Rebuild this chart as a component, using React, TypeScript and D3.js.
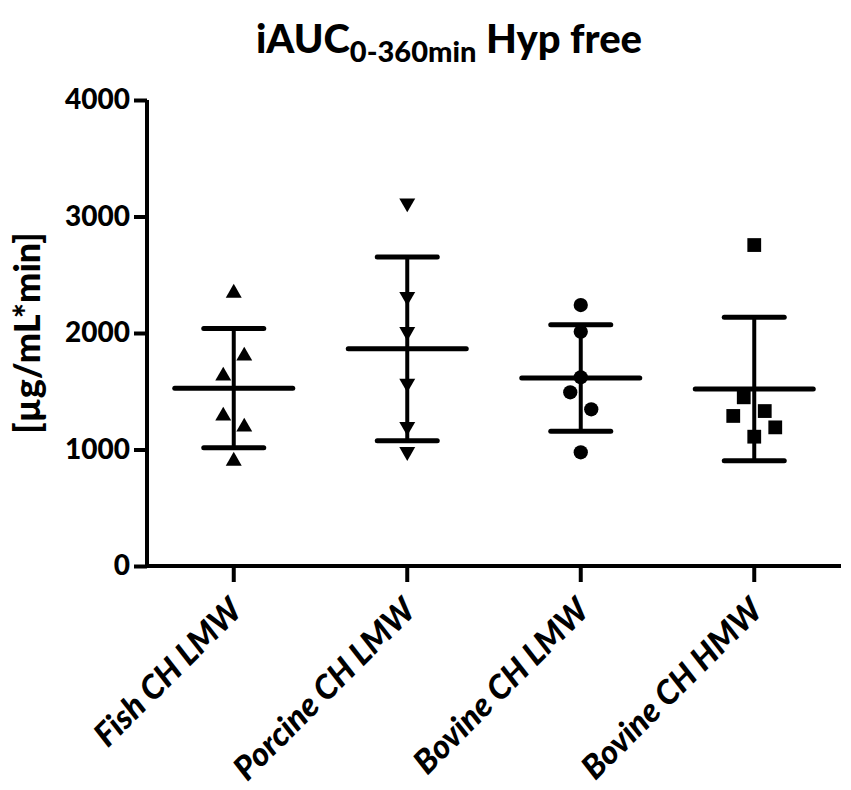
import React, { useEffect, useRef } from "react";
import * as d3 from "d3";

// Groups shown on the x axis
const groups = ["Fish CH LMW", "Porcine CH LMW", "Bovine CH LMW", "Bovine CH HMW"];

// Individual iAUC values per group [µg/mL*min]
const fishValues = [2343, 1803, 1631, 1288, 1193, 901];
const porcineValues = [3116, 2312, 2011, 1568, 1196, 981];
const bovineLmwValues = [2240, 2011, 1620, 1491, 1345, 976];
const bovineHmwValues = [2755, 1448, 1288, 1330, 1190, 1110];

// Scatter column of each point (dot-plot jitter, in columns)
const fishColumns = [0, 1, -1, -1, 1, 0];
const porcineColumns = [0, 0, 0, 0, 0, 0];
const bovineLmwColumns = [0, 0, 0, -1, 1, 0];
const bovineHmwColumns = [0, -1, -2, 1, 2, 0];

const yTicks = [0, 1000, 2000, 3000, 4000];

const FONT = "Lato, 'Open Sans', sans-serif";

const App: React.FC = () => {
  const svgRef = useRef<SVGSVGElement | null>(null);
  const width = 851;
  const height = 790;

  useEffect(() => {
    document.body.style.margin = "0";
    const svg = d3.select(svgRef.current);
    svg.selectAll("*").remove();

    const valuesList = [fishValues, porcineValues, bovineLmwValues, bovineHmwValues];
    const columnsList = [fishColumns, porcineColumns, bovineLmwColumns, bovineHmwColumns];
    const symbols = [
      d3.symbolTriangle,
      d3.symbolTriangle,
      d3.symbolCircle,
      d3.symbolSquare,
    ];

    const x = d3.scaleBand<string>().domain(groups).range([147, 841]);
    const y = d3.scaleLinear().domain([0, 4000]).range([566, 100]);
    const jitter = d3.scaleLinear().domain([-1, 1]).range([-10.5, 10.5]);

    // Title
    const title = svg
      .append("text")
      .attr("x", 449)
      .attr("y", 53)
      .attr("text-anchor", "middle")
      .style("font-family", FONT)
      .style("font-weight", 900)
      .style("font-size", "40px");
    title.append("tspan").text("iAUC");
    title
      .append("tspan")
      .attr("dy", 9)
      .style("font-size", "29px")
      .text("0-360min");
    title.append("tspan").attr("dy", -9).text(" Hyp free");

    // Y axis
    const yAxis = svg
      .append("g")
      .attr("transform", "translate(147,0)")
      .call(d3.axisLeft(y).tickValues(yTicks).tickSize(13).tickPadding(4).tickFormat(d3.format("d")));
    yAxis.select(".domain").attr("stroke-width", 4).attr("d", `M0,${y(4000)}V${y(0)}`);
    yAxis.selectAll(".tick line").attr("stroke-width", 4);
    yAxis
      .selectAll(".tick text")
      .style("font-family", FONT)
      .style("font-weight", 900)
      .style("font-size", "28px")
      .attr("fill", "#000");

    // X axis
    const xAxis = svg
      .append("g")
      .attr("transform", `translate(0,${y(0)})`)
      .call(d3.axisBottom(x).tickSize(16).tickSizeOuter(0));
    xAxis.select(".domain").attr("stroke-width", 4).attr("d", `M${145},0H${841}`);
    xAxis.selectAll(".tick line").attr("stroke-width", 4);
    xAxis
      .selectAll(".tick text")
      .attr("transform", "translate(2,38) rotate(-45)")
      .attr("y", 0)
      .attr("x", 0)
      .attr("dy", "0.35em")
      .attr("text-anchor", "end")
      .style("font-family", FONT)
      .style("font-weight", 900)
      .style("font-style", "italic")
      .style("font-size", "33px")
      .attr("fill", "#000");

    // Y label
    svg
      .append("text")
      .attr("transform", `translate(40,${(y(0) + y(4000)) / 2}) rotate(-90)`)
      .attr("text-anchor", "middle")
      .style("font-family", FONT)
      .style("font-weight", 900)
      .style("font-size", "36px")
      .text("[µg/mL*min]");

    // Groups: mean ± SD and points
    groups.forEach((g, i) => {
      const vals = valuesList[i];
      const cx = (x(g) as number) + x.bandwidth() / 2;
      const mean = d3.mean(vals) as number;
      const sd = d3.deviation(vals) as number;
      const grp = svg.append("g");

      grp
        .append("line")
        .attr("x1", cx)
        .attr("x2", cx)
        .attr("y1", y(mean + sd))
        .attr("y2", y(mean - sd))
        .attr("stroke", "#000")
        .attr("stroke-width", 4);
      [mean + sd, mean - sd].forEach((v) => {
        grp
          .append("line")
          .attr("x1", cx - 30)
          .attr("x2", cx + 30)
          .attr("y1", y(v))
          .attr("y2", y(v))
          .attr("stroke", "#000")
          .attr("stroke-width", 5)
          .attr("stroke-linecap", "round");
      });
      grp
        .append("line")
        .attr("x1", cx - 59)
        .attr("x2", cx + 59)
        .attr("y1", y(mean))
        .attr("y2", y(mean))
        .attr("stroke", "#000")
        .attr("stroke-width", 5)
        .attr("stroke-linecap", "round");

      const sizes = [110, 110, 160, 190];
      const sym = d3.symbol().type(symbols[i]).size(sizes[i]);
      grp
        .selectAll("path.pt")
        .data(vals)
        .enter()
        .append("path")
        .attr("class", "pt")
        .attr("d", sym()!)
        .attr(
          "transform",
          (d, j) =>
            `translate(${cx + jitter(columnsList[i][j])},${y(d)})` +
            (i === 1 ? " rotate(180)" : "")
        )
        .attr("fill", "#000");
    });
  }, []);

  return (
    <svg
      ref={svgRef}
      width={width}
      height={height}
      style={{ position: "absolute", left: 0, top: 0, background: "#fff" }}
    />
  );
};

export default App;
